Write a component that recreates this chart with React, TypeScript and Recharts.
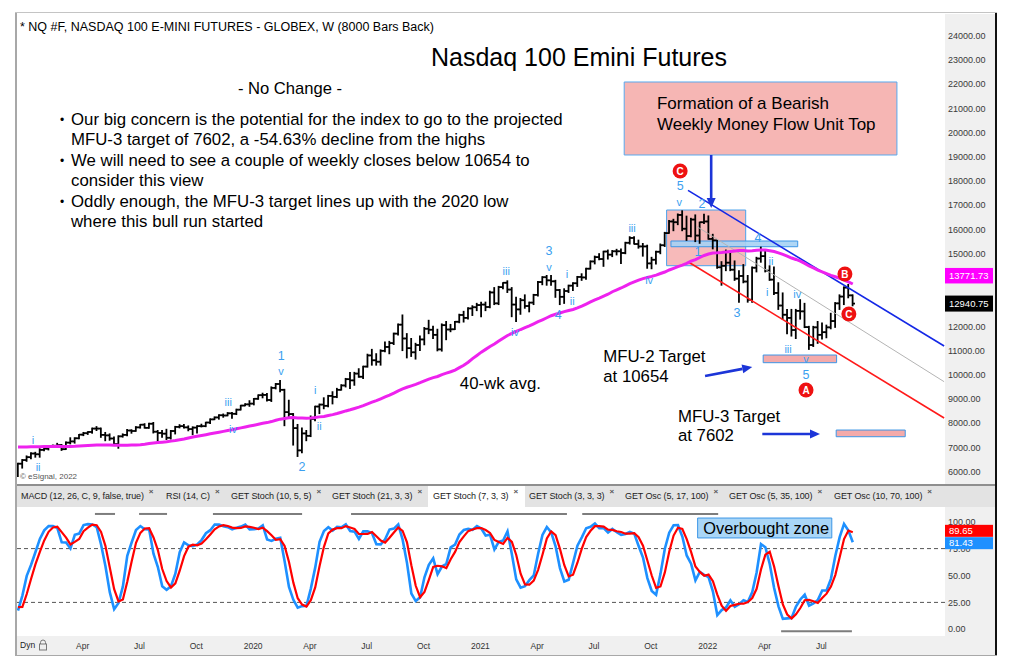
import React from "react";
import {
  ComposedChart,
  Bar,
  Line,
  XAxis,
  YAxis,
  ReferenceLine,
  ReferenceArea,
  ReferenceDot,
} from "recharts";

const FONT = "'Liberation Sans', Arial, Helvetica, sans-serif";

// ---------- weekly OHLC, week 0 = week of 24 Dec 2018 ----------
const opens = [
  6300, 6330, 6480, 6600, 6750, 6720, 6900, 6950, 7030, 7070,
  7100, 6930, 7200, 7250, 7380, 7530, 7590, 7640, 7780, 7780,
  7520, 7500, 7370, 7140, 7460, 7520, 7700, 7680, 7830, 7940,
  7810, 7980, 7650, 7600, 7570, 7400, 7680, 7850, 7880, 7830,
  7760, 7820, 7880, 7880, 8030, 8160, 8240, 8330, 8320, 8410,
  8390, 8560, 8730, 8780, 8810, 9010, 9160, 9170, 8960, 9460,
  9620, 9380, 8460, 8380, 7800, 6880, 7580, 7480, 8180, 8690,
  8770, 8720, 9130, 9090, 9380, 9560, 9820, 9770, 10050, 9920,
  10340, 10800, 10600, 10540, 10990, 11150, 11310, 11700, 12070, 11500,
  11100, 10930, 11230, 11460, 11900, 11860, 11650, 11050, 12050, 11870,
  11880, 12190, 12470, 12350, 12740, 12790, 12880, 12900, 12800, 13400,
  12950, 13620, 13800, 13520, 12900, 12700, 13080, 12840, 12980, 13300,
  13830, 14030, 13900, 13860, 13500, 13220, 13460, 13680, 13780, 14040,
  14020, 14380, 14680, 14860, 14780, 15090, 14960, 15100, 15100, 15030,
  15450, 15650, 15400, 15300, 15300, 14600, 14750, 15080, 15350, 15850,
  16330, 16300, 16600, 16030, 15730, 16410, 15750, 16300, 16330, 15610,
  15550, 14440, 14500, 14630, 14340, 13970, 14080, 13850, 13100, 14420,
  14800, 14900, 14300, 13930, 13380, 12860, 12480, 12350, 11850, 12640,
  12620, 11970, 11230, 11960, 11650, 11760, 11960, 12220, 12950, 13230,
  13600, 13280,
];
const highs = [
  6350, 6500, 6650, 6780, 6800, 6950, 7020, 7050, 7100, 7170,
  7120, 7230, 7400, 7400, 7540, 7620, 7650, 7800, 7860, 7800,
  7620, 7560, 7430, 7480, 7560, 7740, 7730, 7860, 7950, 7980,
  8000, 8030, 7700, 7700, 7750, 7700, 7870, 7940, 7950, 7890,
  7850, 7900, 7960, 8040, 8180, 8260, 8350, 8380, 8440, 8440,
  8580, 8740, 8800, 8930, 9020, 9170, 9240, 9230, 9500, 9640,
  9760, 9400, 8950, 8400, 7950, 7800, 7700, 8300, 8700, 8790,
  9050, 9150, 9300, 9440, 9590, 9850, 10100, 10100, 10250, 10350,
  10850, 11050, 10870, 11030, 11350, 11380, 11720, 12100, 12470, 11700,
  11500, 11300, 11600, 11950, 12250, 12000, 11880, 12100, 12200, 12080,
  12200, 12500, 12620, 12770, 12850, 12950, 13000, 13000, 13450, 13600,
  13650, 13800, 13880, 13600, 13200, 13150, 13300, 13000, 13320, 13850,
  14050, 14100, 14100, 13900, 13520, 13550, 13700, 13800, 14060, 14170,
  14400, 14700, 14900, 15000, 15100, 15150, 15130, 15180, 15190, 15470,
  15700, 15700, 15560, 15420, 15350, 14850, 15100, 15400, 15880, 16370,
  16420, 16640, 16770, 16550, 16460, 16600, 16300, 16630, 16560, 15800,
  15560, 14670, 15150, 15050, 14700, 14300, 14550, 14100, 14450, 14850,
  15270, 15100, 14500, 14450, 13800, 13380, 12700, 12700, 12700, 13100,
  12950, 12000, 12000, 12200, 12140, 12050, 12540, 12980, 13300, 13630,
  13730, 13300,
];
const lows = [
  5800, 6150, 6430, 6530, 6600, 6600, 6860, 6900, 7000, 7030,
  6880, 6920, 7150, 7180, 7360, 7490, 7540, 7590, 7700, 7420,
  7280, 7300, 7120, 6970, 7430, 7480, 7590, 7670, 7800, 7800,
  7790, 7600, 7230, 7420, 7330, 7350, 7560, 7810, 7800, 7690,
  7530, 7600, 7850, 7860, 7990, 8150, 8170, 8250, 8310, 8210,
  8360, 8550, 8720, 8700, 8760, 8990, 9050, 8920, 8900, 9420,
  9300, 7900, 8200, 7100, 6630, 6780, 7280, 7450, 8100, 8400,
  8600, 8680, 8800, 9060, 9370, 9500, 9430, 9570, 9900, 9850,
  10320, 10400, 10400, 10400, 10950, 10870, 11250, 11640, 11000, 10700,
  10760, 10650, 11000, 11240, 11700, 11500, 10990, 10980, 11450, 11780,
  11870, 12150, 12180, 12300, 12450, 12650, 12400, 12650, 12770, 12900,
  12900, 13550, 13400, 12400, 12200, 12500, 12750, 12600, 12900, 13250,
  13720, 13700, 13700, 13200, 12900, 12950, 13400, 13480, 13650, 13900,
  13950, 14370, 14580, 14750, 14480, 14780, 14880, 14950, 14600, 15000,
  15400, 15400, 15230, 14900, 14400, 14380, 14570, 15000, 15300, 15840,
  15950, 16200, 15950, 15550, 15700, 15500, 15430, 16250, 15600, 15200,
  14400, 13700, 14300, 14300, 13900, 13000, 13800, 13000, 13000, 14250,
  14650, 14250, 13900, 13320, 12700, 12300, 11700, 11600, 11500, 12300,
  11950, 11050, 11170, 11300, 11480, 11530, 11900, 11960, 12700, 12900,
  13180, 12850,
];
const closes = [
  6330, 6480, 6600, 6750, 6720, 6900, 6950, 7030, 7070, 7100,
  6930, 7200, 7250, 7380, 7530, 7590, 7640, 7780, 7780, 7520,
  7500, 7370, 7140, 7460, 7520, 7700, 7680, 7830, 7940, 7810,
  7980, 7650, 7600, 7570, 7400, 7680, 7850, 7880, 7830, 7760,
  7820, 7880, 7880, 8030, 8160, 8240, 8330, 8320, 8410, 8390,
  8560, 8730, 8780, 8810, 9010, 9160, 9170, 8960, 9460, 9620,
  9380, 8460, 8380, 7800, 6880, 7580, 7480, 8180, 8690, 8770,
  8720, 9130, 9090, 9380, 9560, 9820, 9770, 10050, 9920, 10340,
  10800, 10600, 10540, 10990, 11150, 11310, 11700, 12070, 11500, 11100,
  10930, 11230, 11460, 11900, 11860, 11650, 11050, 12050, 11870, 11880,
  12190, 12470, 12350, 12740, 12790, 12880, 12900, 12800, 13400, 12950,
  13620, 13800, 13520, 12900, 12700, 13080, 12840, 12980, 13300, 13830,
  14030, 13900, 13860, 13500, 13220, 13460, 13680, 13780, 14040, 14020,
  14380, 14680, 14860, 14780, 15090, 14960, 15100, 15100, 15030, 15450,
  15650, 15400, 15300, 15300, 14600, 14750, 15080, 15350, 15850, 16330,
  16300, 16600, 16030, 15730, 16410, 15750, 16300, 16330, 15610, 15550,
  14440, 14500, 14630, 14340, 13970, 14080, 13850, 13100, 14420, 14800,
  14900, 14300, 13930, 13380, 12860, 12480, 12350, 11850, 12640, 12620,
  11970, 11230, 11960, 11650, 11760, 11960, 12220, 12950, 13230, 13600,
  13280, 12940,
];
// 2018 history (needed by the 40-wk average and the stochastic)
const preCloses = [
  6580, 6420, 6650, 6680, 6680, 6760, 6960, 6900, 6990, 7070,
  7150, 7260, 7150, 7050, 7220, 7380, 7380, 7300, 7420, 7440,
  7380, 7550, 7650, 7480, 7520, 7480, 7620, 7390, 7060, 6960,
  6700, 6930, 6980, 6750, 6490, 6900, 6660, 6530, 6050,
];
const preHighs = [7700, 7700, 7420, 7230, 7020, 7030, 7160, 7050, 6800, 6950, 7150, 6870, 6640];
const preLows = [7570, 7330, 6920, 6950, 6520, 6560, 6920, 6700, 6470, 6480, 6500, 6500, 6000];

const priceTicks = [6000, 7000, 8000, 9000, 10000, 11000, 12000, 13000, 14000, 15000, 16000, 17000, 18000, 19000, 20000, 21000, 22000, 23000, 24000];
const stochTicks = [0, 25, 50, 75, 100];
const monthWeeks = [14, 27, 40, 53, 66, 79, 92, 105, 118, 131, 144, 157, 170, 183];
const monthLabels = ["Apr", "Jul", "Oct", "2020", "Apr", "Jul", "Oct", "2021", "Apr", "Jul", "Oct", "2022", "Apr", "Jul"];

const lastPrice = 12940.75;
const lastAvg = 13771.73;
const lastD = 89.65;
const lastK = 81.43;

// ---------- studies ----------
const allCloses = [...preCloses, ...closes];
const stH = [...preHighs, ...highs];
const stL = [...preLows, ...lows];
const stC = [...preCloses.slice(-13), ...closes];
const rawK = stC.map((c, j) => {
  if (j < 6) return 0;
  const hh = Math.max(...stH.slice(j - 6, j + 1));
  const ll = Math.min(...stL.slice(j - 6, j + 1));
  return ((c - ll) / (hh - ll)) * 100;
});
const kS = rawK.map((_, j) => (j < 8 ? 0 : (rawK[j] + rawK[j - 1] + rawK[j - 2]) / 3));
const dS = kS.map((_, j) => (j < 10 ? 0 : (kS[j] + kS[j - 1] + kS[j - 2]) / 3));

const data = closes.map((c, i) => {
  const win = allCloses.slice(i, i + 40);
  return {
    i,
    o: opens[i],
    h: highs[i],
    l: lows[i],
    c,
    ma: win.reduce((a, b) => a + b, 0) / win.length,
    k: kS[i + 13],
    d: dS[i + 13],
  };
});

// ---------- annotations (data coordinates) ----------
const waveLabels = [
  { i: 3.4, p: 7309, t: "i" }, { i: 4.6, p: 6194, t: "ii" },
  { i: 48.1, p: 8877, t: "iii" }, { i: 49.2, p: 7762, t: "iv" },
  { i: 60.2, p: 10817, t: "1" }, { i: 60.2, p: 10157, t: "v" },
  { i: 65.0, p: 6235, t: "2" }, { i: 68.0, p: 9373, t: "i" }, { i: 68.9, p: 7886, t: "ii" },
  { i: 111.7, p: 14286, t: "iii" }, { i: 113.7, p: 11767, t: "iv" },
  { i: 121.5, p: 15112, t: "3" }, { i: 121.5, p: 14451, t: "v" },
  { i: 125.6, p: 14162, t: "i" }, { i: 126.8, p: 13048, t: "ii" }, { i: 123.6, p: 12470, t: "4" },
  { i: 140.5, p: 16061, t: "iii" }, { i: 144.4, p: 13914, t: "iv" },
  { i: 151.5, p: 17836, t: "5" }, { i: 151.3, p: 17134, t: "v" },
  { i: 156.5, p: 17093, t: "2" }, { i: 155.6, p: 15111, t: "1" },
  { i: 169.3, p: 15689, t: "4" }, { i: 172.3, p: 14698, t: "ii" },
  { i: 164.5, p: 12592, t: "3" }, { i: 171.4, p: 13418, t: "i" },
  { i: 178.3, p: 13336, t: "iv" }, { i: 176.2, p: 11065, t: "iii" },
  { i: 180.3, p: 10652, t: "v" }, { i: 180.3, p: 10033, t: "5" },
];
const circleLabels = [
  { i: 151.5, p: 18414, t: "C" },
  { i: 189.2, p: 14162, t: "B" },
  { i: 190.1, p: 12511, t: "C" },
  { i: 180.3, p: 9373, t: "A" },
];
const bullets = [
  ["Our big concern is the potential for the index to go to the projected", "MFU-3 target of 7602, a -54.63% decline from the highs"],
  ["We will need to see a couple of weekly closes below 10654 to", "consider this view"],
  ["Oddly enough, the MFU-3 target lines up with the 2020 low", "where this bull run started"],
];
const tabs = [
  { t: "MACD (12, 26, C, 9, false, true)", x: 21 },
  { t: "RSI (14, C)", x: 166 },
  { t: "GET Stoch (10, 5, 5)", x: 231 },
  { t: "GET Stoch (21, 3, 3)", x: 332 },
  { t: "GET Stoch (7, 3, 3)", x: 433, active: true },
  { t: "GET Stoch (3, 3, 3)", x: 529 },
  { t: "GET Osc (5, 17, 100)", x: 625 },
  { t: "GET Osc (5, 35, 100)", x: 729 },
  { t: "GET Osc (10, 70, 100)", x: 834 },
];

const X_DOMAIN: [number, number] = [-0.23, 212.1];
const P_DOMAIN: [number, number] = [5492, 24896];
const S_DOMAIN: [number, number] = [-6.23, 113.66];
const BLUE_LBL = "#3b9ff0";
const ARROW = "#1c35d8";

const OhlcShape = (props: any) => {
  const { x, y, width, height, payload } = props;
  if (x == null || y == null || !payload) return null;
  const cx = x + width / 2;
  const top = Math.min(y, y + height);
  const h = Math.abs(height);
  const span = payload.h - payload.l || 1;
  const py = (v: number) => top + ((payload.h - v) / span) * h;
  return (
    <g stroke="#000" strokeWidth={1.8}>
      <line x1={cx} x2={cx} y1={top - 0.5} y2={top + h + 0.5} />
      <line x1={cx - 2.4} x2={cx} y1={py(payload.o)} y2={py(payload.o)} />
      <line x1={cx} x2={cx + 2.4} y1={py(payload.c)} y2={py(payload.c)} />
    </g>
  );
};

const ArrowShape = (p: any) => {
  const { x1, y1, x2, y2 } = p;
  if ([x1, y1, x2, y2].some((v) => typeof v !== "number" || isNaN(v))) return null;
  const ang = Math.atan2(y2 - y1, x2 - x1);
  const L = 10, W = 4.5;
  const bx = x2 - L * Math.cos(ang), by = y2 - L * Math.sin(ang);
  const px = -Math.sin(ang) * W, py = Math.cos(ang) * W;
  return (
    <g>
      <line x1={x1} y1={y1} x2={bx} y2={by} stroke={ARROW} strokeWidth={2.6} />
      <polygon points={`${x2},${y2} ${bx + px},${by + py} ${bx - px},${by - py}`} fill={ARROW} />
    </g>
  );
};

const textShape = (lines: string[], size: number, gap: number) => (p: any) => (
  <text x={p.cx} y={p.cy} fontSize={size} fontFamily={FONT} fill="#000" textAnchor="start">
    {lines.map((ln, k) => (
      <tspan key={k} x={p.cx} dy={k === 0 ? size * 0.35 : gap}>{ln}</tspan>
    ))}
  </text>
);

const waveShape = (t: string) => (p: any) => (
  <text x={p.cx} y={p.cy} dy={/\d/.test(t) ? 4.5 : 3.8} textAnchor="middle" fontSize={/\d/.test(t) ? 12.5 : 11} fontFamily={FONT} fill={BLUE_LBL}>{t}</text>
);

const circleShape = (t: string) => (p: any) => (
  <g>
    <circle cx={p.cx} cy={p.cy} r={7.5} fill="#ee1111" />
    <text x={p.cx} y={p.cy} dy={3.6} textAnchor="middle" fontSize={10} fontWeight="bold" fontFamily={FONT} fill="#fff">{t}</text>
  </g>
);

const tagShape = (text: string, bg: string, fg: string, up: number, down: number) => (p: any) => (
  <g>
    <rect x={p.cx} y={p.cy - up} width={48} height={up + down} fill={bg} />
    <text x={p.cx + 4} y={p.cy + (down - up) / 2} dy={3.3} fontSize={9.5} fontFamily={FONT} fill={fg}>{text}</text>
  </g>
);

const PriceTick = (p: any) => (
  <text x={p.x} y={p.y} dy={3.2} fontSize={9} fontFamily={FONT} fill="#3a3a3a" textAnchor="start">
    {Number(p.payload.value).toFixed(2)}
  </text>
);
const MonthTick = (p: any) => (
  <text x={p.x + 3.5} y={p.y + 13} textAnchor="middle" fontSize={8.5} fontFamily={FONT} fill="#333">
    {monthLabels[monthWeeks.indexOf(p.payload.value)]}
  </text>
);

const abs = (l: number, t: number, extra: React.CSSProperties = {}): React.CSSProperties => ({
  position: "absolute",
  left: l,
  top: t,
  whiteSpace: "nowrap",
  ...extra,
});

export default function App() {
  return (
    <div style={{ position: "relative", width: 1012, height: 669, background: "#fff", fontFamily: FONT, overflow: "hidden" }}>
      <style>{`body{margin:0;}`}</style>
      {/* chrome backgrounds */}
      <div style={abs(945, 14, { width: 50, height: 470, background: "#f0f0f0" })} />
      <div style={abs(17, 484, { width: 978, height: 23, background: "#e3e3e3", borderTop: "2px solid #8f8f8f", boxSizing: "border-box" })} />
      <div style={abs(945, 507, { width: 50, height: 129, background: "#f0f0f0" })} />
      <div style={abs(17, 636, { width: 978, height: 19, background: "#f0f0f0" })} />
      {tabs.map((tb, k) =>
        tb.active ? (
          <div key={"a" + k} style={abs(tb.x - 5, 486, { width: 97, height: 21, background: "#fff" })} />
        ) : null
      )}
      {/* frame */}
      <div style={abs(15, 13, { width: 2, height: 642, background: "#a8a8a8" })} />
      <div style={abs(15, 12, { width: 982, height: 1, background: "#c4c4c4" })} />
      <div style={abs(995, 13, { width: 2, height: 642, background: "#111" })} />
      <div style={abs(15, 655, { width: 982, height: 1, background: "#a8a8a8" })} />

      {/* price panel */}
      <div style={abs(0, 0)}>
        <ComposedChart width={1012} height={484} data={data} margin={{ top: 14, right: 17, bottom: 0, left: 17 }}>
          <XAxis dataKey="i" type="number" domain={X_DOMAIN} allowDataOverflow hide />
          <YAxis
            orientation="right"
            width={50}
            domain={P_DOMAIN}
            ticks={priceTicks}
            allowDataOverflow
            axisLine={false}
            tickLine={false}
            tickSize={0}
            tickMargin={3}
            tick={PriceTick}
            interval={0}
          />
          <ReferenceArea x1={138.7} x2={201.1} y1={19075} y2={22089} fill="#f6b6b4" fillOpacity={1} stroke="#59a9ee" strokeWidth={1} />
          <ReferenceArea x1={148.4} x2={166.5} y1={14504} y2={16803} fill="#f4a3a3" fillOpacity={0.75} stroke="#4aa2ec" strokeWidth={1} />
          <ReferenceArea x1={149.4} x2={178.4} y1={15288} y2={15524} fill="#a6d2f4" fillOpacity={0.9} stroke="#3d96e6" strokeWidth={1} />
          <ReferenceArea x1={170.5} x2={187.3} y1={10500} y2={10817} fill="#f4aaaa" fillOpacity={1} stroke="#3d96e6" strokeWidth={1} />
          <ReferenceArea x1={187.2} x2={203.0} y1={7444} y2={7720} fill="#f4aaaa" fillOpacity={1} stroke="#3d96e6" strokeWidth={1} />
          <ReferenceLine segment={[{ x: 155.4, y: 16114 }, { x: 211.9, y: 9715 }]} stroke="#b4b4b4" strokeWidth={1} />
          <ReferenceLine segment={[{ x: 153.3, y: 17613 }, { x: 211.9, y: 11189 }]} stroke="#1428e6" strokeWidth={1.6} />
          <ReferenceLine segment={[{ x: 153.3, y: 14670 }, { x: 211.9, y: 8217 }]} stroke="#ff1a1a" strokeWidth={1.6} />
          <Line dataKey="ma" stroke="#ee22ee" strokeWidth={3} dot={false} isAnimationActive={false} />
          <Bar dataKey={(d: any) => [d.l, d.h]} barSize={4} shape={OhlcShape} isAnimationActive={false} />
          <ReferenceLine segment={[{ x: 158.6, y: 19075 }, { x: 158.6, y: 16886 }]} shape={ArrowShape} />
          <ReferenceLine segment={[{ x: 157.2, y: 9951 }, { x: 168.0, y: 10322 }]} shape={ArrowShape} />
          <ReferenceLine segment={[{ x: 170.3, y: 7556 }, { x: 183.5, y: 7556 }]} shape={ArrowShape} />
          <ReferenceDot x={146.2} y={21221} r={0} shape={textShape(["Formation of a Bearish", "Weekly Money Flow Unit Top"], 17, 21)} />
          <ReferenceDot x={133.9} y={10776} r={0} shape={textShape(["MFU-2 Target", "at 10654"], 16.8, 20.5)} />
          <ReferenceDot x={151.0} y={8298} r={0} shape={textShape(["MFU-3 Target", "at 7602"], 16.8, 19.5)} />
          <ReferenceDot x={101.1} y={9662} r={0} shape={textShape(["40-wk avg."], 16.8, 0)} />
          {waveLabels.map((w, k) => (
            <ReferenceDot key={"w" + k} x={w.i} y={w.p} r={0} shape={waveShape(w.t)} />
          ))}
          {circleLabels.map((c, k) => (
            <ReferenceDot key={"c" + k} x={c.i} y={c.p} r={0} shape={circleShape(c.t)} />
          ))}
        </ComposedChart>
      </div>
      {/* price value tags (drawn above the axis labels) */}
      <div style={abs(0, 0)}>
        <ComposedChart width={1012} height={484} data={data} margin={{ top: 14, right: 67, bottom: 0, left: 17 }}>
          <XAxis dataKey="i" type="number" domain={X_DOMAIN} allowDataOverflow hide />
          <YAxis domain={P_DOMAIN} allowDataOverflow hide />
          <ReferenceDot x={X_DOMAIN[1]} y={lastAvg} r={0} shape={tagShape(lastAvg.toFixed(2), "#ff00ff", "#fff", 15.5, 0)} />
          <ReferenceDot x={X_DOMAIN[1]} y={lastPrice} r={0} shape={tagShape(lastPrice.toFixed(2), "#000", "#fff", 8, 8)} />
        </ComposedChart>
      </div>

      {/* stochastic panel */}
      <div style={abs(0, 507)}>
        <ComposedChart width={1012} height={148} data={data} margin={{ top: 0, right: 17, bottom: 0, left: 17 }}>
          <XAxis
            dataKey="i"
            type="number"
            domain={X_DOMAIN}
            allowDataOverflow
            ticks={monthWeeks}
            interval={0}
            axisLine={false}
            tickLine={false}
            tickSize={0}
            tickMargin={0}
            height={19}
            tick={MonthTick}
          />
          <YAxis
            orientation="right"
            width={50}
            domain={S_DOMAIN}
            ticks={stochTicks}
            allowDataOverflow
            axisLine={false}
            tickLine={false}
            tickSize={0}
            tickMargin={3}
            tick={PriceTick}
            interval={0}
          />
          <ReferenceLine y={75} stroke="#555" strokeDasharray="4 3" strokeWidth={1} />
          <ReferenceLine y={25} stroke="#555" strokeDasharray="4 3" strokeWidth={1} />
          <ReferenceLine segment={[{ x: 17.6, y: 107.2 }, { x: 22.2, y: 107.2 }]} stroke="#7d7d7d" strokeWidth={2} />
          <ReferenceLine segment={[{ x: 27.7, y: 107.2 }, { x: 34.1, y: 107.2 }]} stroke="#7d7d7d" strokeWidth={2} />
          <ReferenceLine segment={[{ x: 44.6, y: 107.2 }, { x: 65.0, y: 107.2 }]} stroke="#7d7d7d" strokeWidth={2} />
          <ReferenceLine segment={[{ x: 76.2, y: 107.2 }, { x: 125.6, y: 107.2 }]} stroke="#7d7d7d" strokeWidth={2} />
          <ReferenceLine segment={[{ x: 129.1, y: 107.2 }, { x: 160.2, y: 107.2 }]} stroke="#7d7d7d" strokeWidth={2} />
          <ReferenceLine segment={[{ x: 174.6, y: -1.8 }, { x: 190.8, y: -1.8 }]} stroke="#7d7d7d" strokeWidth={2} />
          <ReferenceArea x1={155.5} x2={186.2} y1={84.9} y2={103.4} fill="#a9d6f7" fillOpacity={1} stroke="#3d96e6" strokeWidth={1} />
          <ReferenceDot x={156.8} y={94.1} r={0} shape={textShape(["Overbought zone"], 16.4, 0)} />
          <Line dataKey="k" stroke="#1e90ff" strokeWidth={2.6} dot={false} isAnimationActive={false} />
          <Line dataKey="d" stroke="#ff0000" strokeWidth={2.2} dot={false} isAnimationActive={false} />
        </ComposedChart>
      </div>
      {/* stochastic value tags */}
      <div style={abs(0, 507)}>
        <ComposedChart width={1012} height={148} data={data} margin={{ top: 0, right: 67, bottom: 19, left: 17 }}>
          <XAxis dataKey="i" type="number" domain={X_DOMAIN} allowDataOverflow hide />
          <YAxis domain={S_DOMAIN} allowDataOverflow hide />
          <ReferenceDot x={X_DOMAIN[1]} y={lastD} r={0} shape={tagShape(lastD.toFixed(2), "#ff0000", "#fff", 8, 4)} />
          <ReferenceDot x={X_DOMAIN[1]} y={lastK} r={0} shape={tagShape(lastK.toFixed(2), "#1e90ff", "#fff", 4.5, 7.5)} />
        </ComposedChart>
      </div>

      {/* header texts */}
      <div style={abs(20, 19, { fontSize: 12.5, lineHeight: "16px", color: "#000" })}>
        * NQ #F, NASDAQ 100 E-MINI FUTURES - GLOBEX, W (8000 Bars Back)
      </div>
      <div style={abs(579, 43, { fontSize: 25, lineHeight: "28px", color: "#000", transform: "translateX(-50%)" })}>
        Nasdaq 100 Emini Futures
      </div>
      <div style={abs(290, 79, { fontSize: 16.6, lineHeight: "20px", color: "#000", transform: "translateX(-50%)" })}>
        - No Change -
      </div>
      {bullets.map((b, k) => (
        <div key={"b" + k} style={abs(60, 110 + k * 40.8, { fontSize: 16.8, lineHeight: "20.4px", color: "#000" })}>
          <span style={{ position: "absolute", left: 0, fontSize: 12 }}>•</span>
          <div style={{ marginLeft: 11 }}>{b[0]}</div>
          <div style={{ marginLeft: 11 }}>{b[1]}</div>
        </div>
      ))}
      <div style={abs(20, 472, { fontSize: 8, color: "#555" })}>© eSignal, 2022</div>

      {/* study tabs */}
      {tabs.map((tb, k) => (
        <div key={"t" + k} style={abs(tb.x, 491, { fontSize: 9, color: "#222", letterSpacing: -0.1 })}>
          {tb.t}
          <span style={{ position: "relative", top: -5, marginLeft: 5, fontSize: 8, fontWeight: "bold", color: "#555" }}>×</span>
        </div>
      ))}

      {/* bottom left controls */}
      <div style={abs(20, 640, { fontSize: 8.5, color: "#222" })}>Dyn</div>
      <svg style={abs(38, 639)} width={10} height={12}>
        <path d="M2.5 5 V3.5 A2.5 2.5 0 0 1 7.5 3.5 V5" fill="none" stroke="#777" strokeWidth={1} />
        <rect x={1.5} y={5} width={7} height={6} fill="#eee" stroke="#777" strokeWidth={1} />
      </svg>
    </div>
  );
}
